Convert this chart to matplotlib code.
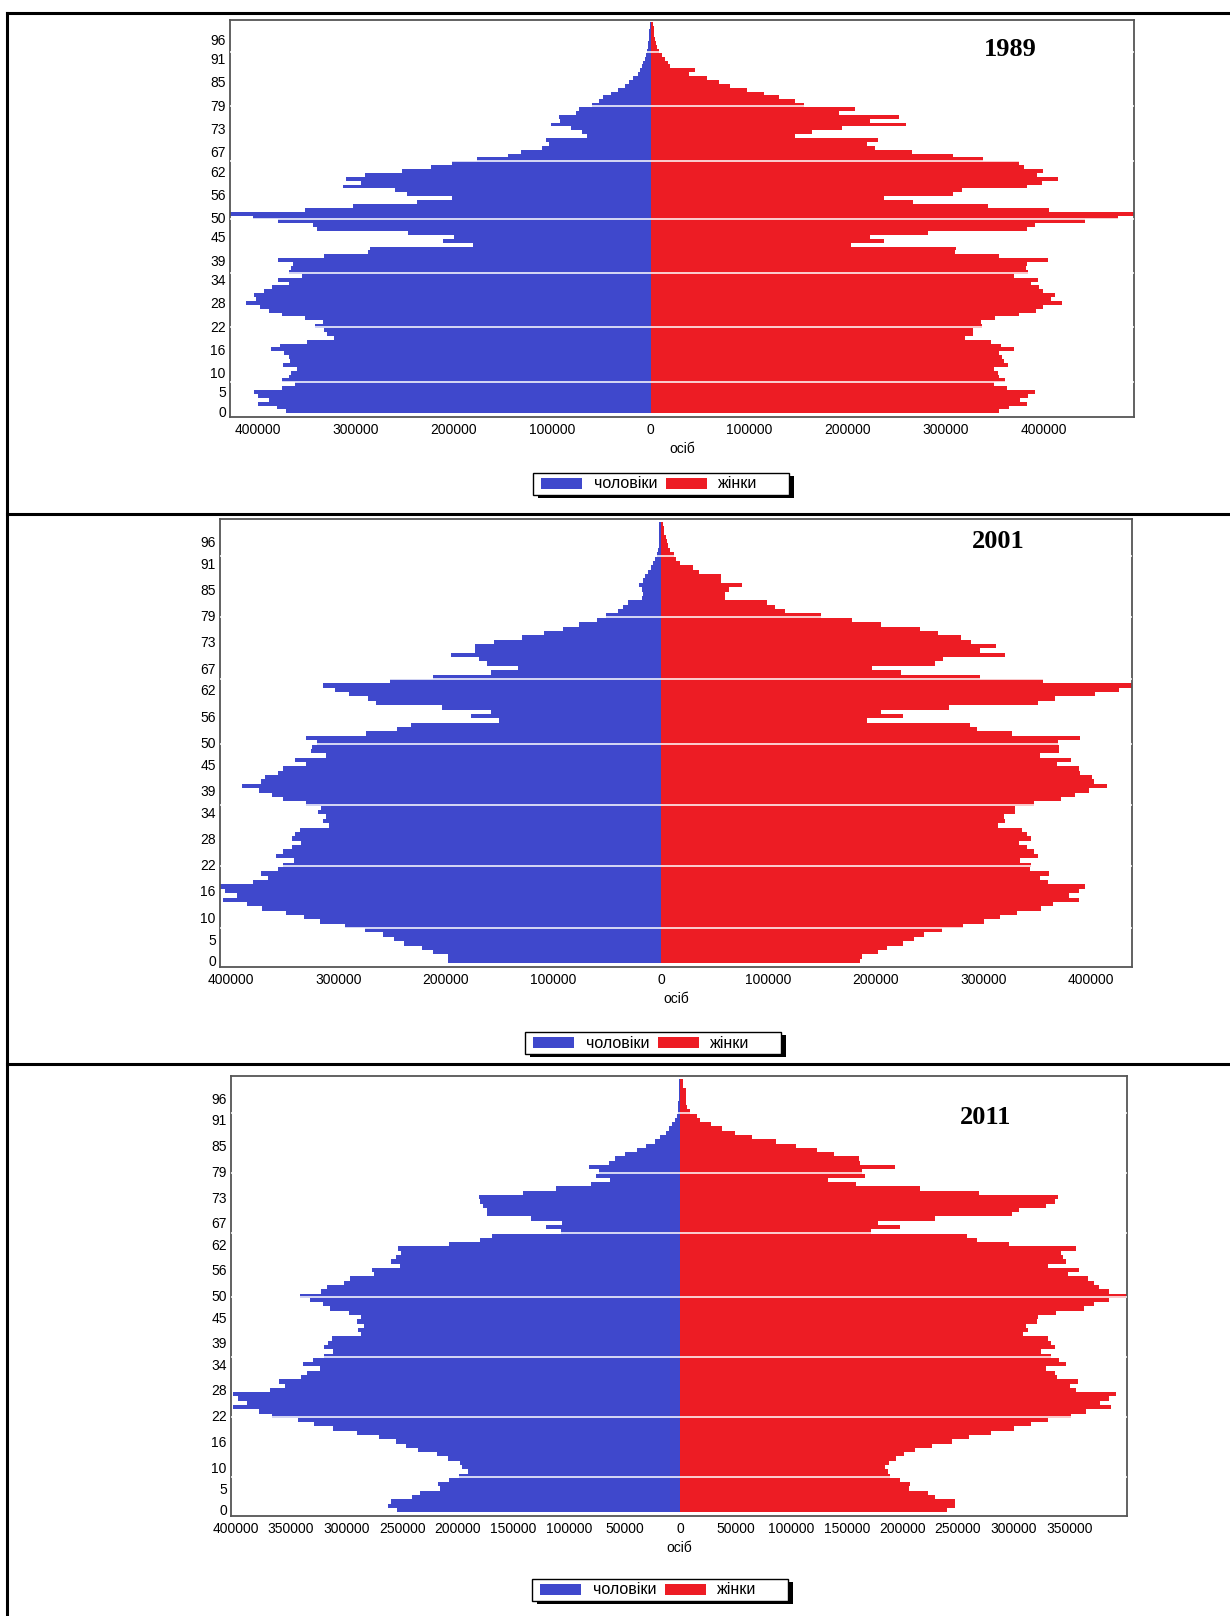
import numpy as np
import matplotlib
matplotlib.use("Agg")
import matplotlib.pyplot as plt
from matplotlib.patches import Rectangle
from matplotlib.lines import Line2D

plt.rcParams['font.family'] = ['Liberation Sans', 'DejaVu Sans']

W, H = 1230, 1616
BLUE = '#3F48CC'
RED = '#ED1C24'

ages = np.arange(0, 101)

# thousand persons, age 0 .. 100
male_1989 = [371, 380, 399, 388, 399, 404, 375, 362, 375, 368,
             366, 360, 374, 367, 368, 373, 386, 377, 350, 322,
             329, 332, 342, 333, 352, 375, 388, 397, 412, 402,
             404, 393, 385, 368, 379, 355, 368, 366, 364, 379,
             332, 288, 286, 181, 211, 200, 247, 339, 344, 379,
             405, 428, 352, 303, 238, 202, 248, 260, 313, 295,
             310, 291, 253, 223, 202, 177, 145, 132, 110, 103,
             106, 65, 70, 81, 101, 92, 93, 76, 73, 60,
             52, 48, 40, 33, 26, 22, 18, 13, 11, 9,
             7.5, 6, 4.5, 3.5, 3, 2.5, 2, 1.5, 1.2, 0.8, 0.5]
female_1989 = [355, 365, 383, 376, 384, 391, 363, 350, 361, 355,
               354, 350, 364, 360, 358, 355, 370, 357, 346, 320,
               328, 328, 337, 336, 351, 375, 392, 399, 419, 408,
               412, 399, 395, 387, 394, 370, 384, 382, 383, 404,
               355, 310, 311, 204, 238, 223, 282, 383, 391, 442,
               476, 495, 405, 343, 267, 238, 308, 317, 383, 398,
               415, 393, 399, 380, 375, 338, 308, 266, 228, 220,
               231, 147, 164, 195, 260, 223, 253, 192, 208, 156,
               147, 131, 115, 98, 81, 70, 57, 39, 45, 20,
               18, 15, 12, 9, 7, 6, 5, 4, 3.5, 3, 2.4]

male_2001 = [198, 198, 212, 222, 239, 248, 258, 275, 294, 317,
             332, 349, 371, 385, 407, 394, 405, 410, 379, 365,
             372, 356, 351, 341, 358, 351, 343, 335, 343, 340,
             336, 309, 314, 311, 319, 316, 330, 351, 362, 374,
             390, 372, 368, 356, 351, 330, 340, 311, 325, 324,
             320, 330, 274, 245, 232, 151, 177, 158, 204, 265,
             272, 290, 303, 314, 252, 212, 158, 133, 162, 169,
             195, 173, 173, 155, 129, 109, 91, 76, 59, 51,
             40, 35, 31, 18, 17, 18, 20, 17, 15, 12,
             9, 7, 5.6, 3.5, 3.2, 2.2, 2, 1.8, 1.6, 1.5, 1.5]
female_2001 = [185, 187, 202, 210, 225, 235, 245, 261, 281, 300,
               315, 331, 353, 365, 389, 379, 389, 394, 360, 352,
               361, 343, 344, 334, 351, 347, 340, 333, 344, 340,
               336, 313, 320, 319, 329, 329, 347, 372, 385, 398,
               415, 403, 401, 390, 389, 368, 381, 352, 370, 370,
               369, 390, 326, 294, 287, 192, 225, 205, 268, 351,
               366, 404, 426, 440, 355, 297, 223, 196, 255, 262,
               320, 297, 312, 288, 279, 258, 241, 205, 178, 149,
               115, 106, 99, 60, 60, 63, 75, 56, 56, 35,
               30, 18, 14, 12, 8.4, 7, 5.5, 4.5, 3, 2.5, 2]

male_2011 = [255, 263, 260, 241, 234, 216, 218, 208, 199, 191,
             196, 198, 209, 219, 236, 247, 256, 271, 291, 312,
             329, 344, 367, 379, 402, 390, 398, 402, 369, 355,
             361, 341, 336, 324, 339, 330, 320, 312, 320, 317,
             313, 287, 290, 284, 291, 287, 298, 315, 321, 333,
             342, 323, 318, 302, 297, 275, 277, 252, 260, 256,
             251, 254, 208, 180, 169, 107, 121, 106, 134, 174,
             174, 177, 180, 181, 141, 112, 80, 63, 76, 73,
             82, 64, 59, 50, 39, 31, 23, 18, 13, 9.7,
             7, 4.3, 2.7, 2.2, 2.2, 1.5, 1, 1, 1, 1, 1]
female_2011 = [240, 247, 247, 229, 223, 206, 207, 198, 189, 187,
               184, 188, 194, 201, 211, 227, 245, 260, 280, 300,
               316, 331, 352, 365, 388, 378, 386, 392, 356, 351,
               358, 339, 337, 329, 347, 341, 334, 325, 337, 334,
               331, 308, 313, 311, 321, 322, 338, 363, 372, 386,
               402, 386, 377, 372, 367, 349, 359, 331, 347, 344,
               343, 356, 296, 267, 258, 172, 198, 178, 229, 299,
               305, 329, 337, 340, 269, 216, 158, 133, 166, 164,
               193, 162, 161, 138, 123, 104, 86, 65, 49, 38,
               28, 18, 15, 8.6, 6.5, 5.4, 5.4, 5.4, 5.4, 2.7, 2.7]

years = ['1989', '2001', '2011']
age_ticks = [0, 5, 10, 16, 22, 28, 34, 39, 45, 50, 56, 62, 67, 73, 79, 85, 91, 96]
grid_ages = [7.6, 21.7, 35.7, 49.7, 64.6, 78.7, 92.7]
xticks_a = [-400000, -300000, -200000, -100000, 0, 100000, 200000, 300000, 400000]
xticks_b = list(range(-400000, 400000, 50000))
legend_labels = ['чоловіки', 'жінки']

panels = [
    # data, xlim, ylim, xticks, axes box (l, t, r, b) px, year pos px, legend box (left, top) px
    (male_1989, female_1989, (-428000, 492000), (-1.45, 100.95), xticks_a,
     (230, 20, 1134, 417), (1010, 49), (533, 473)),
    (male_2001, female_2001, (-410000, 438000), (-1.4, 101.1), xticks_a,
     (220, 519, 1132, 967), (998, 542), (525, 1032)),
    (male_2011, female_2011, (-404000, 402000), (-1.4, 101.25), xticks_b,
     (231, 1076, 1127, 1516), (986, 1118), (532, 1579)),
]

fig = plt.figure(figsize=(W / 100, H / 100), dpi=100)


def rect_px(x, y, w, h, **kw):
    # rectangle given in pixels from the top-left corner
    fig.add_artist(Rectangle((x / W, 1 - (y + h) / H), w / W, h / H,
                             transform=fig.transFigure, **kw))


def legend_px(x0, y0):
    bw, bh = 256, 22
    rect_px(x0 + 5, y0 + 3, bw, bh, facecolor='black', edgecolor='none')
    rect_px(x0, y0, bw, bh, facecolor='white', edgecolor='black', lw=1.0)
    rect_px(x0 + 8, y0 + 4.5, 41, 11, facecolor=BLUE, edgecolor='none')
    rect_px(x0 + 133, y0 + 4.5, 41, 11, facecolor=RED, edgecolor='none')
    for dx, lab in [(61, legend_labels[0]), (185, legend_labels[1])]:
        fig.text((x0 + dx) / W, 1 - (y0 + bh / 2) / H, lab, fontsize=11.5,
                 ha='left', va='center')


for year, (male, female, xlim, ylim, xt, box, ypos, lpos) in zip(years, panels):
    l, t, r, b = box
    ax = fig.add_axes([l / W, 1 - b / H, (r - l) / W, (b - t) / H])
    ax.barh(ages, -np.array(male) * 1000, height=1.0, color=BLUE, linewidth=0)
    ax.barh(ages, np.array(female) * 1000, height=1.0, color=RED, linewidth=0)
    for g in grid_ages:
        ax.axhline(g, color='white', lw=1.1, zorder=3)
    ax.set_xlim(*xlim)
    ax.set_ylim(*ylim)
    ax.set_yticks(age_ticks)
    ax.set_xticks(xt)
    ax.set_xticklabels([str(abs(v)) for v in xt])
    ax.tick_params(length=0, labelsize=10, pad=3)
    ax.tick_params(axis='x', pad=4)
    ax.set_xlabel('осіб', fontsize=10, labelpad=4)
    for s in ax.spines.values():
        s.set_color('#555555')
        s.set_linewidth(1.3)

    fig.text(ypos[0] / W, 1 - ypos[1] / H, year, family='Liberation Serif',
             weight='bold', fontsize=19, ha='center', va='center')

    legend_px(*lpos)

# table borders around the panels
def hline(y):
    fig.add_artist(Line2D([7 / W, 1], [1 - y / H, 1 - y / H],
                          transform=fig.transFigure, color='black', lw=2.2))

hline(13)
hline(514)
hline(1064)
fig.add_artist(Line2D([7 / W, 7 / W], [1 - 13 / H, 0],
                      transform=fig.transFigure, color='black', lw=2.2))

fig.savefig('out.png', dpi=100)
